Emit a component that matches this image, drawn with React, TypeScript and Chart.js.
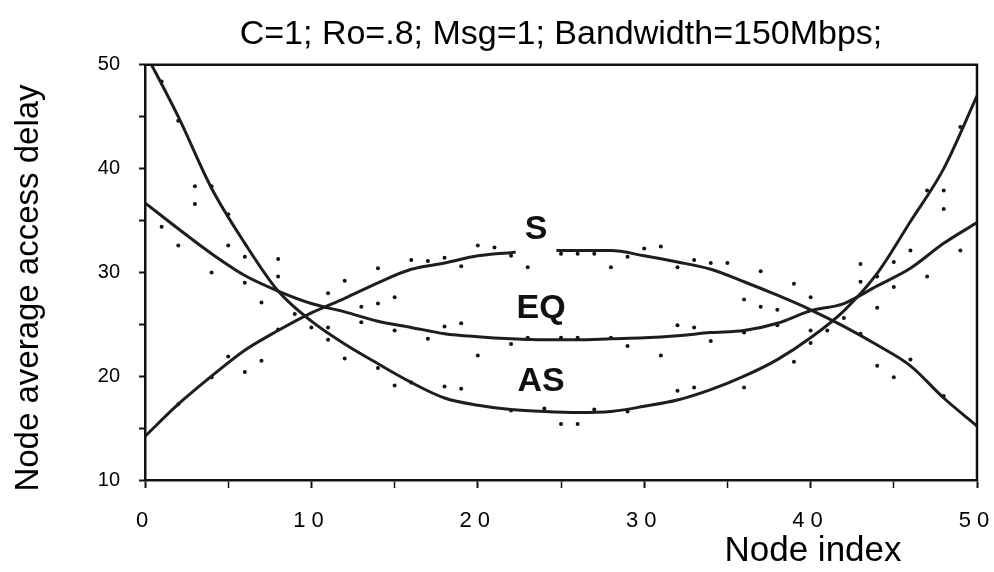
import React, { useEffect, useRef } from 'react';
import { Chart, registerables } from 'chart.js';

Chart.register(...registerables);

// ---- data ----
const nodeIndex = [0, 2, 4, 6, 8, 10, 12, 14, 16, 18, 20, 22, 24, 26, 28, 30, 32, 34, 36, 38, 40, 42, 44, 46, 48, 50];
const sDelay = [14.2, 17.3, 20.0, 22.5, 24.4, 26.1, 27.5, 29.0, 30.3, 30.9, 31.6, 31.9, 32.1, 32.1, 32.1, 31.6, 31.0, 30.3, 29.1, 27.8, 26.4, 24.8, 23.0, 21.0, 17.9, 15.2];
const eqDelay = [36.7, 34.2, 31.8, 29.7, 28.2, 27.0, 26.2, 25.3, 24.7, 24.1, 23.8, 23.6, 23.5, 23.5, 23.6, 23.7, 23.9, 24.2, 24.4, 25.1, 26.3, 27.0, 28.7, 30.4, 32.8, 34.8];
const asDelay = [51.2, 45.0, 38.1, 32.8, 28.2, 25.3, 23.1, 21.2, 19.4, 17.9, 17.2, 16.8, 16.6, 16.5, 16.6, 17.1, 17.7, 18.7, 20.0, 21.6, 23.7, 26.3, 29.9, 34.9, 40.0, 47.0];

const dotX = [1, 2, 3, 3, 4, 5, 1, 2, 5, 6, 8, 14, 4, 6, 7, 8, 9, 10, 11, 11, 11, 12, 12, 13, 13, 14, 14, 15, 15, 15, 5, 6, 7, 2, 4, 8,
  16, 17, 18, 19, 20, 21, 22, 23, 25, 26, 27, 28, 29, 30, 31, 32, 33, 17, 18, 18, 19, 19, 20, 22, 22, 23, 24, 25, 25, 26, 26, 27, 28, 29, 29, 31, 32, 32, 33, 33,
  34, 35, 37, 39, 40, 36, 37, 38, 38, 34, 36, 40, 40, 41, 42, 39, 36, 43, 43, 44, 44, 45, 45, 43, 44, 45, 46, 47, 48, 46, 48, 48, 49, 47, 49, 16];
const dotY = [48.4, 44.6, 38.3, 36.6, 38.3, 35.6, 34.4, 32.6, 32.6, 31.5, 31.3, 30.4, 30.0, 29.0, 27.1, 29.6, 26.0, 24.7, 28.0, 24.7, 23.5, 29.2, 21.7, 26.7, 25.2, 27.0, 20.8, 27.6, 24.4, 19.1, 21.9, 20.4, 21.5, 17.3, 19.9, 24.5,
  31.2, 31.1, 31.4, 30.6, 32.6, 32.4, 31.6, 30.5, 31.8, 31.8, 31.8, 30.5, 31.5, 32.3, 32.5, 30.5, 31.2, 23.6, 24.8, 19.0, 25.1, 18.8, 22.0, 23.1, 16.7, 23.7, 16.9, 23.7, 15.4, 23.7, 15.4, 16.8, 23.7, 22.9, 16.6, 22.0, 24.9, 18.6, 24.7, 18.9,
  30.9, 30.9, 30.1, 28.9, 27.6, 27.4, 26.7, 26.4, 24.9, 23.4, 24.2, 24.4, 23.2, 24.4, 25.6, 21.4, 18.9, 30.8, 29.1, 29.6, 26.6, 31.0, 28.6, 24.1, 21.0, 19.9, 21.6, 29.6, 18.1, 32.1, 37.9, 36.1, 32.1, 37.9, 44.0, 19.4];

const xTickLabels = [0, 10, 20, 30, 40, 50];
const curveLabels = ['S', 'EQ', 'AS'];
const curveLabelX = [23.5, 23.8, 23.8];
const curveLabelY = [34.1, 26.5, 19.5];

const titleText = 'C=1; Ro=.8; Msg=1; Bandwidth=150Mbps;';
const xTitle = 'Node index';
const yTitle = 'Node average access delay';

const FAMILY = "'Liberation Sans', Arial, Helvetica, sans-serif";
const INK = '#111';

const overlay = {
  id: 'overlay',
  afterDatasetsDraw(chart: any) {
    const { ctx, scales } = chart;
    const x = scales.x;
    const y = scales.y;
    ctx.save();
    ctx.font = `bold 34px ${FAMILY}`;
    ctx.textAlign = 'center';
    ctx.textBaseline = 'middle';
    curveLabels.forEach((t, i) => {
      const px = x.getPixelForValue(curveLabelX[i]);
      const py = y.getPixelForValue(curveLabelY[i]);
      if (i === 0) {
        const w = ctx.measureText(t).width;
        ctx.fillStyle = '#fff';
        ctx.fillRect(px - w / 2 - 9, py - 14, w + 18, 40);
      }
      ctx.fillStyle = INK;
      ctx.fillText(t, px, py);
    });
    ctx.restore();
  },
  afterDraw(chart: any) {
    const { ctx, chartArea, scales } = chart;
    const x = scales.x;
    ctx.save();
    // frame top & right
    ctx.strokeStyle = INK;
    ctx.lineWidth = 2.5;
    ctx.beginPath();
    ctx.moveTo(chartArea.left - 1, chartArea.top);
    ctx.lineTo(chartArea.right, chartArea.top);
    ctx.lineTo(chartArea.right, chartArea.bottom + 1);
    ctx.stroke();

    // x tick labels (letter-spaced)
    ctx.fillStyle = '#000';
    ctx.font = `22px ${FAMILY}`;
    (ctx as any).letterSpacing = '6px';
    ctx.textAlign = 'center';
    ctx.textBaseline = 'alphabetic';
    xTickLabels.forEach((v) => {
      ctx.fillText(String(v), x.getPixelForValue(v), 527);
    });
    (ctx as any).letterSpacing = '0px';

    // x axis title
    ctx.font = `35px ${FAMILY}`;
    ctx.fillText(xTitle, 813, 561);

    // y axis title
    ctx.translate(38, 288);
    ctx.rotate(-Math.PI / 2);
    ctx.font = `33px ${FAMILY}`;
    ctx.fillText(yTitle, 0, 0);
    ctx.restore();
  },
};

const curve = (label: string, values: number[]) => ({
  label,
  data: nodeIndex.map((v, i) => ({ x: v, y: values[i] })),
  borderColor: '#1e1e1e',
  borderWidth: 3,
  pointRadius: 0,
  fill: false,
  cubicInterpolationMode: 'monotone' as const,
});

export default function App() {
  const ref = useRef<HTMLCanvasElement>(null);
  useEffect(() => {
    document.body.style.margin = '0';
    const chart = new Chart(ref.current as HTMLCanvasElement, {
      type: 'line',
      data: {
        datasets: [
          curve('S', sDelay),
          curve('EQ', eqDelay),
          curve('AS', asDelay),
          {
            label: 'simulation',
            data: dotX.map((v, i) => ({ x: v, y: dotY[i] })),
            showLine: false,
            pointRadius: 2,
            pointBackgroundColor: INK,
            pointBorderWidth: 0,
            borderColor: INK,
          } as any,
        ],
      },
      options: {
        animation: false,
        responsive: false,
        layout: { padding: { left: 0, right: 17, top: 0, bottom: 0 } },
        plugins: {
          legend: { display: false },
          tooltip: { enabled: false },
          title: {
            display: true,
            text: titleText,
            fullSize: false,
            color: '#000',
            font: { family: FAMILY, size: 34, weight: 'normal' },
            padding: { top: 14, bottom: 10 },
          },
        },
        scales: {
          x: {
            type: 'linear',
            min: 0,
            max: 50,
            ticks: { stepSize: 5, display: false },
            grid: {
              drawOnChartArea: false,
              drawTicks: true,
              tickLength: 8,
              color: INK,
              tickWidth: (c: any) => (c.tick && c.tick.value % 10 === 0 ? 2 : 1.5),
            },
            border: { color: INK, width: 2.5 },
            afterFit: (s: any) => { s.height = 92; },
          },
          y: {
            type: 'linear',
            min: 10,
            max: 50,
            ticks: {
              stepSize: 5,
              color: '#000',
              padding: 19,
              font: { family: FAMILY, size: 20 },
              callback: (v: any) => (Number(v) % 10 === 0 ? String(v) : ''),
            },
            grid: { drawOnChartArea: false, drawTicks: true, tickLength: 6, color: INK, tickWidth: 2 },
            border: { color: INK, width: 2.5 },
            afterFit: (s: any) => { s.width = 145; },
          },
        },
      },
      plugins: [overlay],
    });
    return () => chart.destroy();
  }, []);
  return (
    <div style={{ width: 994, height: 572 }}>
      <canvas ref={ref} width={994} height={572} style={{ display: 'block' }} />
    </div>
  );
}
